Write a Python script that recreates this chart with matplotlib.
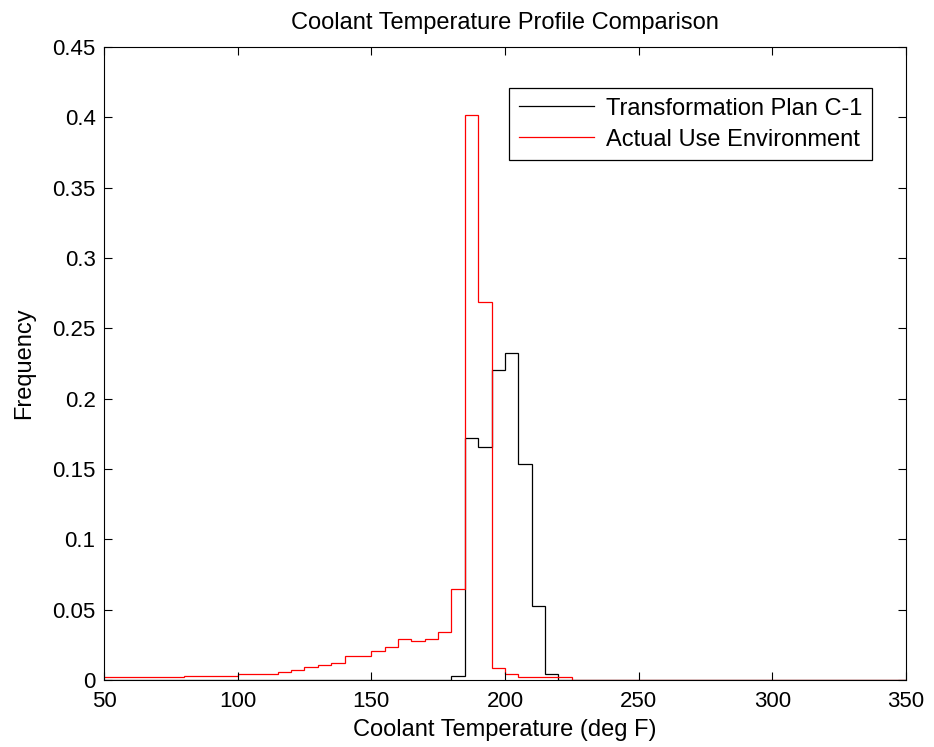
import matplotlib
matplotlib.use("Agg")
import matplotlib.pyplot as plt

# bin edges / relative frequency
plan_edges = [50, 180, 185, 190, 195, 200, 205, 210, 215, 220, 350]
plan_freq = [0.0, 0.0025, 0.172, 0.1655, 0.2203, 0.2322, 0.1536, 0.0523, 0.0040, 0.0]

actual_edges = [50, 80, 100, 115, 120, 125, 130, 135, 140, 150, 155, 160, 165,
                170, 175, 180, 185, 190, 195, 200, 205, 225, 350]
actual_freq = [0.0019, 0.0028, 0.0043, 0.0055, 0.0069, 0.0095, 0.0109, 0.0121,
               0.0173, 0.0206, 0.0232, 0.0291, 0.0279, 0.0291, 0.0344, 0.0645,
               0.402, 0.269, 0.0083, 0.0045, 0.0019, 0.0]

xticks = [50, 100, 150, 200, 250, 300, 350]
yticks = [0, 0.05, 0.1, 0.15, 0.2, 0.25, 0.3, 0.35, 0.4, 0.45]
ytick_labels = ["0", "0.05", "0.1", "0.15", "0.2", "0.25", "0.3", "0.35", "0.4", "0.45"]

plt.rcParams['font.family'] = ['Liberation Sans', 'DejaVu Sans']
fs_tick = 16
fs = 17

fig = plt.figure(figsize=(9.34, 7.47), dpi=100)
ax = fig.add_axes([0.1113, 0.0897, 0.8587, 0.8474])

ax.stairs(plan_freq, plan_edges, baseline=None, color='black', lw=0.9,
          label='Transformation Plan C-1')
ax.stairs(actual_freq, actual_edges, baseline=None, color='red', lw=0.9,
          label='Actual Use Environment')

ax.set_xlim(50, 350)
ax.set_ylim(0, 0.45)
ax.set_xticks(xticks)
ax.set_yticks(yticks)
ax.set_yticklabels(ytick_labels)
ax.tick_params(direction='in', length=6, width=0.8, top=True, right=True,
               labelsize=fs_tick)
ax.tick_params(axis='x', pad=8)
ax.tick_params(axis='y', pad=6)
for sp in ax.spines.values():
    sp.set_linewidth(0.8)

ax.set_title('Coolant Temperature Profile Comparison', fontsize=fs, pad=13)
ax.set_xlabel('Coolant Temperature (deg F)', fontsize=fs, labelpad=5)
ax.set_ylabel('Frequency', fontsize=fs, labelpad=12)

leg = ax.legend(loc='upper right', bbox_to_anchor=(0.9576, 0.935), borderaxespad=0,
                fontsize=fs, fancybox=False, framealpha=1, edgecolor='black',
                handlelength=3.2, handletextpad=0.5, borderpad=0.4, labelspacing=0.38)
leg.get_frame().set_linewidth(0.9)

fig.savefig('out.png', dpi=100)
